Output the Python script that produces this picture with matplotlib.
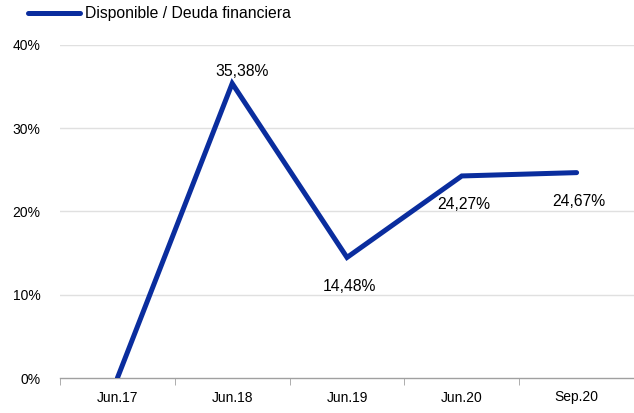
import matplotlib
matplotlib.use("Agg")
import matplotlib.pyplot as plt
from matplotlib.ticker import FixedLocator
from matplotlib.lines import Line2D

plt.rcParams['font.family'] = ['Liberation Sans', 'DejaVu Sans']

categories = ["Jun.17", "Jun.18", "Jun.19", "Jun.20", "Sep.20"]
values = [0.0, 35.38, 14.48, 24.27, 24.67]
labels = ["", "35,38%", "14,48%", "24,27%", "24,67%"]
label_dx = [0, 10, 2, 2, 2]       # px offsets of data labels
label_dy = [0, 11.5, -29, -29, -29]
series_name = "Disponible / Deuda financiera"
yticks = [0, 10, 20, 30, 40]

color = "#0a2d9e"
DPI = 100

fig = plt.figure(figsize=(6.34, 4.13), dpi=DPI)
ax = fig.add_axes([60/634, 1-378/413, 574/634, (378-45)/413])

x = list(range(len(categories)))
ax.plot(x, values, color=color, lw=3.6, solid_joinstyle='miter',
        solid_capstyle='round', clip_on=True, zorder=3)

px2pt = 72 / DPI
for xi, v, lab, dx, dy in zip(x, values, labels, label_dx, label_dy):
    if not lab:
        continue
    ax.annotate(lab, (xi, v), xytext=(dx * px2pt, dy * px2pt), textcoords='offset points',
                ha='center', va='center', fontsize=11.3, annotation_clip=False)

ax.set_xlim(-0.5, 4.5)
ax.set_ylim(0, 40)
ax.set_yticks(yticks)
ax.set_yticklabels([f"{t}%" for t in yticks], fontsize=10)
ax.set_xticks(x)
ax.set_xticklabels(categories, fontsize=10)
ax.xaxis.set_minor_locator(FixedLocator([i - 0.5 for i in range(len(categories) + 1)]))
ax.tick_params(axis='x', which='major', length=0, pad=9)
ax.tick_params(axis='x', which='minor', length=5, color='#a0a0a0', direction='out')
ax.tick_params(axis='y', length=0, pad=14)

for t in yticks[1:]:
    ax.axhline(t, color='#e0e0e0', lw=1, zorder=0)

for s in ['top', 'right', 'left']:
    ax.spines[s].set_visible(False)
ax.spines['bottom'].set_color('#a0a0a0')
ax.spines['bottom'].set_linewidth(1)

handle = Line2D([0], [0], color=color, lw=3.6, solid_capstyle='round')
fig.legend([handle], [series_name], loc='upper left', bbox_to_anchor=(28/634, 1 - 6/413),
           frameon=False, fontsize=11.3, handlelength=3.3, handletextpad=0.35,
           borderaxespad=0, borderpad=0)

fig.savefig("out.png", dpi=DPI)
